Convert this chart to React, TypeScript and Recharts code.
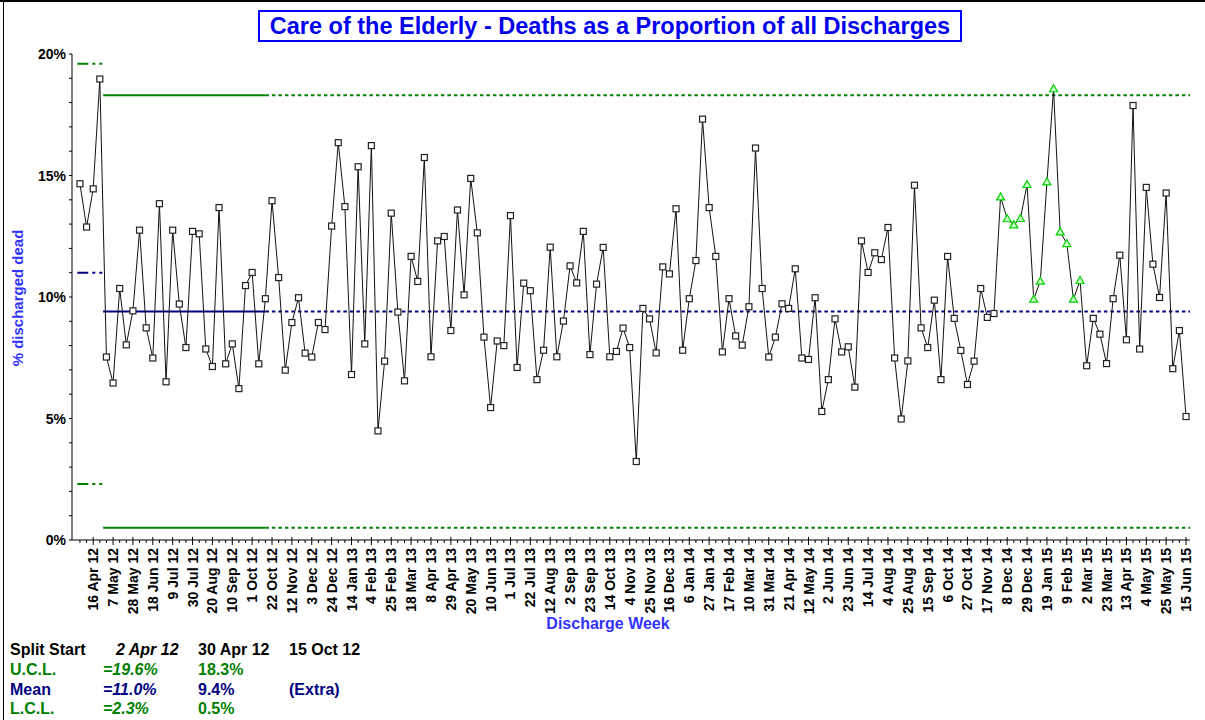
import React from "react";
import { LineChart, Line, XAxis, YAxis, ReferenceLine } from "recharts";

// weekly % of discharges that died, 2 Apr 12 .. 15 Jun 15
const deathRate = [
  14.66, 12.88, 14.45, 18.97, 7.53, 6.46, 10.35, 8.03, 9.43, 12.75, 8.73, 7.49, 13.84, 6.51, 12.75, 9.71, 7.92, 12.7, 12.6, 7.86,
  7.14, 13.68, 7.25, 8.07, 6.23, 10.47, 11.01, 7.25, 9.93, 13.96, 10.8, 6.99, 8.95, 9.97, 7.69, 7.53, 8.95, 8.66, 12.92, 16.35, 13.72, 6.81,
  15.36, 8.07, 16.23, 4.49, 7.36, 13.45, 9.38, 6.55, 11.67, 10.64, 15.74, 7.54, 12.31, 12.49, 8.62, 13.58, 10.09, 14.88, 12.64, 8.35, 5.45,
  8.19, 8.0, 13.35, 7.1, 10.57, 10.26, 6.6, 7.81, 12.05, 7.54, 9.01, 11.28, 10.58, 12.7, 7.63, 10.53, 12.04, 7.54, 7.76, 8.72, 7.92,
  3.23, 9.53, 9.1, 7.7, 11.24, 10.95, 13.63, 7.81, 9.93, 11.5, 17.32, 13.68, 11.67, 7.74, 9.93, 8.4, 8.02, 9.6, 16.13, 10.35, 7.53,
  8.35, 9.72, 9.53, 11.16, 7.49, 7.43, 9.97, 5.29, 6.6, 9.1, 7.74, 7.95, 6.29, 12.31, 11.01, 11.82, 11.54, 12.86, 7.49, 4.98, 7.37,
  14.6, 8.73, 7.92, 9.87, 6.6, 11.67, 9.12, 7.8, 6.4, 7.36, 10.35, 9.16, 9.32, 14.12, 13.22, 12.97, 13.23, 14.63, 9.91, 10.65, 14.74,
  18.57, 12.68, 12.2, 9.91, 10.68, 7.17, 9.12, 8.47, 7.26, 9.93, 11.72, 8.24, 17.88, 7.86, 14.51, 11.35, 9.98, 14.28, 7.05, 8.62, 5.08,
];

// weeks flagged as a run above the mean (green triangles)
const runWeeks = [139, 140, 141, 142, 143, 144, 145, 146, 147, 148, 149, 150, 151];

// every third week is labelled, starting at week 2
const weekLabels = [
  "16 Apr 12", "7 May 12", "28 May 12", "18 Jun 12", "9 Jul 12", "30 Jul 12", "20 Aug 12", "10 Sep 12", "1 Oct 12", "22 Oct 12",
  "12 Nov 12", "3 Dec 12", "24 Dec 12", "14 Jan 13", "4 Feb 13", "25 Feb 13", "18 Mar 13", "8 Apr 13", "29 Apr 13", "20 May 13",
  "10 Jun 13", "1 Jul 13", "22 Jul 13", "12 Aug 13", "2 Sep 13", "23 Sep 13", "14 Oct 13", "4 Nov 13", "25 Nov 13", "16 Dec 13",
  "6 Jan 14", "27 Jan 14", "17 Feb 14", "10 Mar 14", "31 Mar 14", "21 Apr 14", "12 May 14", "2 Jun 14", "23 Jun 14", "14 Jul 14",
  "4 Aug 14", "25 Aug 14", "15 Sep 14", "6 Oct 14", "27 Oct 14", "17 Nov 14", "8 Dec 14", "29 Dec 14", "19 Jan 15", "9 Feb 15",
  "2 Mar 15", "23 Mar 15", "13 Apr 15", "4 May 15", "25 May 15", "15 Jun 15",
];
const firstLabelWeek = 2;
const labelEvery = 3;

// control limits per split: [2 Apr 12, 30 Apr 12]
const ucl = [19.6, 18.3];
const mean = [11.0, 9.4];
const lcl = [2.3, 0.5];
// split boundaries in week index (start, 30 Apr split, 15 Oct extra, end)
const splitEdges = [-0.4, 3.5, 28, 167.6];

const yTicks = Array.from({ length: 21 }, (_, i) => i);
const xTicks = deathRate.map((_, i) => i);
const data = deathRate.map((rate, week) => ({ week, rate }));

const FONT = "'Liberation Sans', Arial, sans-serif";
const GREEN = "#008000";
const NAVY = "#000080";

const WeekDot = (props: any) => {
  const { cx, cy, index } = props;
  if (cx == null || cy == null) return null;
  if (runWeeks.includes(index)) {
    return (
      <path
        d={`M${cx},${cy - 4} L${cx + 4},${cy + 3} L${cx - 4},${cy + 3} Z`}
        fill="#c8ffc8"
        stroke="#00d000"
        strokeWidth={1.2}
      />
    );
  }
  return <rect x={cx - 3} y={cy - 3} width={6} height={6} fill="#fff" stroke="#222" strokeWidth={1.2} />;
};

const WeekTick = (props: any) => {
  const { x, y, payload } = props;
  const i = payload.value;
  const k = (i - firstLabelWeek) / labelEvery;
  const major = i >= firstLabelWeek && Number.isInteger(k);
  return (
    <g>
      <line x1={x} x2={x} y1={major ? y - 3 : y} y2={major ? y + 5 : y + 3} stroke="#000" />
      {major && (
        <text
          x={x}
          y={y + 8}
          transform={`rotate(-90 ${x} ${y + 8})`}
          textAnchor="end"
          dy="0.36em"
          fontFamily={FONT}
          fontWeight="bold"
          fontSize={14}
          fill="#000"
        >
          {weekLabels[k]}
        </text>
      )}
    </g>
  );
};

const PctTick = (props: any) => {
  const { x, y, payload } = props;
  const v = payload.value;
  return (
    <g>
      <line x1={x - 3} x2={x} y1={y} y2={y} stroke="#000" />
      {v % 5 === 0 && (
        <text x={x - 6} y={y} dy="0.36em" textAnchor="end" fontFamily={FONT} fontWeight="bold" fontSize={14} fill="#000">
          {v}%
        </text>
      )}
    </g>
  );
};

const limitLine = (from: number, to: number, y: number, color: string, dash?: string, key?: string) => (
  <ReferenceLine
    key={key}
    segment={[{ x: from, y }, { x: to, y }]}
    stroke={color}
    strokeWidth={2}
    strokeDasharray={dash}
    ifOverflow="visible"
  />
);

const tableCell = (left: number, top: number, text: string, color: string, italic = false) => (
  <div
    style={{
      position: "absolute",
      left,
      top,
      fontFamily: FONT,
      fontWeight: "bold",
      fontStyle: italic ? "italic" : "normal",
      fontSize: 16,
      lineHeight: "18px",
      color,
      whiteSpace: "nowrap",
    }}
  >
    {text}
  </div>
);

export default function App() {
  const firstDash = "11 4 3 4 3 4";
  const dotted = "3.5 3";
  return (
    <div style={{ position: "fixed", left: 0, top: 0, width: 1205, height: 720, background: "#fff", overflow: "hidden" }}>
      <div style={{ position: "absolute", left: 0, top: 0, width: 1205, height: 2, background: "#000" }} />
      <div style={{ position: "absolute", left: 3, top: 0, width: 1, height: 720, background: "#000" }} />

      <div
        style={{
          position: "absolute",
          left: 258,
          top: 10,
          width: 700,
          height: 28,
          border: "2px solid #0000ff",
          fontFamily: FONT,
          fontWeight: "bold",
          fontSize: 23.5,
          lineHeight: "29px",
          textAlign: "center",
          color: "#0000ee",
          whiteSpace: "nowrap",
        }}
      >
        Care of the Elderly - Deaths as a Proportion of all Discharges
      </div>

      <div style={{ position: "absolute", left: 0, top: 0 }}>
        <LineChart width={1205} height={720} data={data} margin={{ top: 54, right: 15, left: 0, bottom: 0 }}>
          <XAxis
            type="number"
            dataKey="week"
            domain={[-1.2, 167.6]}
            ticks={xTicks}
            interval={0}
            tick={<WeekTick />}
            tickLine={false}
            tickSize={0}
            tickMargin={0}
            height={180}
            axisLine={{ stroke: "#000" }}
            allowDataOverflow
          />
          <YAxis
            type="number"
            domain={[0, 20]}
            ticks={yTicks}
            interval={0}
            tick={<PctTick />}
            tickLine={false}
            tickSize={0}
            tickMargin={0}
            width={72}
            axisLine={{ stroke: "#000" }}
            allowDataOverflow
          />
          {limitLine(splitEdges[0], splitEdges[1], ucl[0], GREEN, firstDash, "u0")}
          {limitLine(splitEdges[0], splitEdges[1], mean[0], NAVY, firstDash, "m0")}
          {limitLine(splitEdges[0], splitEdges[1], lcl[0], GREEN, firstDash, "l0")}
          {limitLine(splitEdges[1], splitEdges[2], ucl[1], GREEN, undefined, "u1")}
          {limitLine(splitEdges[1], splitEdges[2], mean[1], NAVY, undefined, "m1")}
          {limitLine(splitEdges[1], splitEdges[2], lcl[1], GREEN, undefined, "l1")}
          {limitLine(splitEdges[2], splitEdges[3], ucl[1], GREEN, dotted, "u2")}
          {limitLine(splitEdges[2], splitEdges[3], mean[1], NAVY, dotted, "m2")}
          {limitLine(splitEdges[2], splitEdges[3], lcl[1], GREEN, dotted, "l2")}
          <Line
            type="linear"
            dataKey="rate"
            stroke="#111"
            strokeWidth={1}
            dot={<WeekDot />}
            activeDot={false}
            isAnimationActive={false}
          />
        </LineChart>
      </div>

      <div
        style={{
          position: "absolute",
          left: 17,
          top: 298,
          transform: "translate(-50%, -50%) rotate(-90deg)",
          fontFamily: FONT,
          fontWeight: "bold",
          fontSize: 15,
          color: "#3333ff",
          whiteSpace: "nowrap",
        }}
      >
        % discharged dead
      </div>
      <div
        style={{
          position: "absolute",
          left: 608,
          top: 624,
          transform: "translate(-50%, -50%)",
          fontFamily: FONT,
          fontWeight: "bold",
          fontSize: 16,
          color: "#3333ff",
          whiteSpace: "nowrap",
        }}
      >
        Discharge Week
      </div>

      {tableCell(10, 641, "Split Start", "#000")}
      {tableCell(116, 641, "2 Apr 12", "#000", true)}
      {tableCell(198, 641, "30 Apr 12", "#000")}
      {tableCell(289, 641, "15 Oct 12", "#000")}
      {tableCell(10, 661, "U.C.L.", GREEN)}
      {tableCell(103, 661, "=19.6%", GREEN, true)}
      {tableCell(198, 661, "18.3%", GREEN)}
      {tableCell(10, 681, "Mean", NAVY)}
      {tableCell(103, 681, "=11.0%", NAVY, true)}
      {tableCell(198, 681, "9.4%", NAVY)}
      {tableCell(289, 681, "(Extra)", NAVY)}
      {tableCell(10, 700, "L.C.L.", GREEN)}
      {tableCell(103, 700, "=2.3%", GREEN, true)}
      {tableCell(198, 700, "0.5%", GREEN)}
    </div>
  );
}
